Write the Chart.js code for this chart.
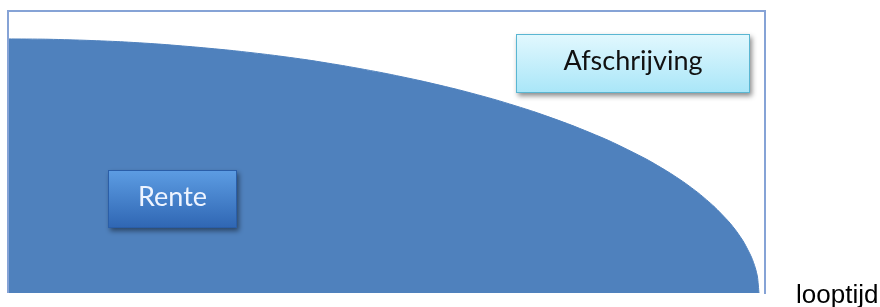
<!DOCTYPE html>
<html>
<head>
<meta charset="utf-8">
<script src="https://cdn.jsdelivr.net/npm/chart.js@4"></script>
<style>
  html, body { margin:0; padding:0; background:#fff; }
  #wrap { width:880px; height:307px; }
</style>
</head>
<body>
<div id="wrap"><canvas id="chart" width="880" height="307"></canvas></div>
<script>
// looptijd (% of term) and remaining balance (%)
const looptijd = [0, 5, 10, 15, 20, 25, 30, 35, 40, 45, 50, 55, 60, 65, 70, 75, 80, 85, 88, 90, 92, 94, 96, 97, 98, 99, 99.5, 99.8, 100];
const saldo    = [100, 99.9, 99.5, 98.9, 98, 96.8, 95.4, 93.7, 91.7, 89.3, 86.6, 83.5, 80, 76, 71.4, 66.1, 60, 52.7, 47.5, 43.6, 39.2, 34.1, 28, 24.3, 19.9, 14.1, 10, 6.3, 0];

const afschrijvingLabel = "Afschrijving";
const renteLabel = "Rente";
const xLabel = "looptijd";

// box with gradient + shadow
function labelBox(ctx, x, y, w, h, top, bottom, border, text, color, size){
  ctx.save();
  ctx.shadowColor = "rgba(0,0,0,0.45)";
  ctx.shadowBlur = 5;
  ctx.shadowOffsetX = 2;
  ctx.shadowOffsetY = 3;
  const g = ctx.createLinearGradient(0, y, 0, y + h);
  g.addColorStop(0, top);
  g.addColorStop(1, bottom);
  ctx.fillStyle = g;
  ctx.fillRect(x, y, w, h);
  ctx.restore();
  ctx.save();
  ctx.strokeStyle = border;
  ctx.lineWidth = 1;
  ctx.strokeRect(x + 0.5, y + 0.5, w - 1, h - 1);
  ctx.fillStyle = color;
  ctx.font = size + "px Lato, 'Open Sans', sans-serif";
  ctx.textAlign = "center";
  ctx.textBaseline = "middle";
  ctx.fillText(text, x + w / 2, y + h / 2 - 2);
  ctx.restore();
}

const decor = {
  id: "decor",
  afterDraw(chart){
    const {ctx, chartArea:a} = chart;
    // frame: left, top, right
    ctx.save();
    ctx.strokeStyle = "#86a3d6";
    ctx.lineWidth = 2;
    ctx.beginPath();
    ctx.moveTo(a.left, a.bottom);
    ctx.lineTo(a.left, a.top);
    ctx.lineTo(a.right, a.top);
    ctx.lineTo(a.right, a.bottom + 1);
    ctx.stroke();
    ctx.restore();

    labelBox(ctx, 516, 34, 234, 59, "#e2f8fe", "#a9e6f8", "#5ab6d2", afschrijvingLabel, "#111", 27);
    labelBox(ctx, 108, 170, 129, 58, "#5d9de3", "#2f66b3", "#2a5ea8", renteLabel, "#eef4ff", 27);

    ctx.save();
    ctx.fillStyle = "#000";
    ctx.font = "26px 'Liberation Sans', Arial, sans-serif";
    ctx.textBaseline = "alphabetic";
    ctx.fillText(xLabel, 796, 303);
    ctx.restore();
  }
};

new Chart(document.getElementById("chart"), {
  type: "line",
  data: {
    datasets: [{
      data: looptijd.map((x, i) => ({x, y: saldo[i]})),
      backgroundColor: "#4f81bd",
      borderColor: "#4f81bd",
      borderWidth: 1,
      fill: "origin",
      pointRadius: 0,
      tension: 0.2
    }]
  },
  options: {
    responsive: false,
    animation: false,
    layout: { padding: { left: 8, top: 11, right: 115, bottom: 14 } },
    plugins: { legend: { display: false }, tooltip: { enabled: false } },
    scales: {
      x: { type: "linear", display: false, min: 0, max: 100.8 },
      y: { display: false, min: 0, max: 111 }
    }
  },
  plugins: [decor]
});
</script>
</body>
</html>
